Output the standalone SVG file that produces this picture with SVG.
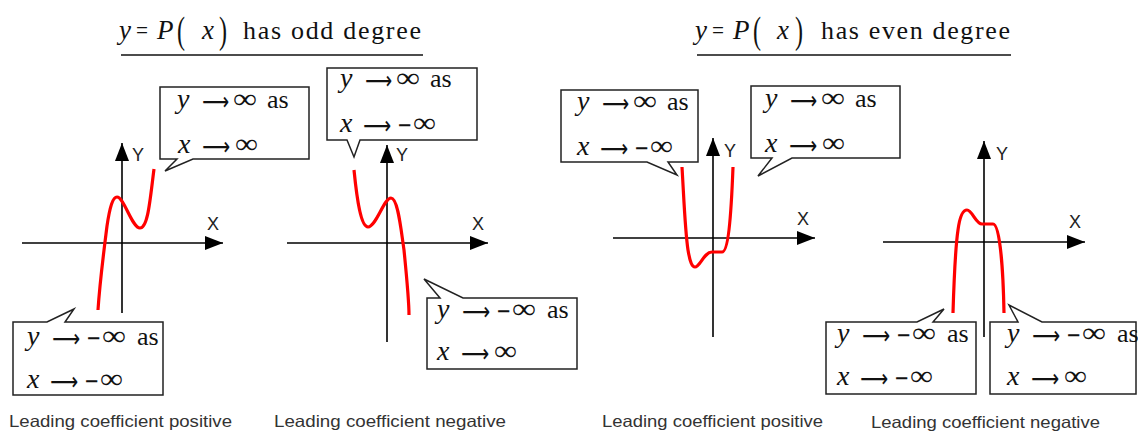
<svg xmlns="http://www.w3.org/2000/svg" xmlns:xlink="http://www.w3.org/1999/xlink" width="1138" height="432" viewBox="0 0 1138 432">
<style>
.it{font-family:"Liberation Serif",serif;font-style:italic;font-size:28px;fill:#111}
.rm{font-family:"Liberation Serif",serif;font-size:26px;fill:#111}
.mn{font-family:"DejaVu Sans",sans-serif;font-size:24px;fill:#111}
.inf{font-family:"Liberation Serif",serif;font-size:28px;fill:#111}
.arr{font-family:"DejaVu Sans",sans-serif;font-size:25px;fill:#111}
.tit{font-family:"Liberation Serif",serif;font-size:26px;fill:#111}
.tit-it{font-family:"Liberation Serif",serif;font-style:italic;font-size:27px;fill:#111}
.par{font-family:"Liberation Serif",serif;font-size:38px;fill:#111}
.ax{stroke:#000;stroke-width:1.6;fill:none}
.lab{font-family:"Liberation Sans",sans-serif;font-size:18px;fill:#222}
.cap{font-family:"Liberation Sans",Arial,sans-serif;font-size:16.5px;fill:#333}
.bub{fill:#fff;stroke:#222;stroke-width:1.5;stroke-linejoin:miter}
.curve{fill:none;stroke:#f00;stroke-width:3.2;stroke-linejoin:round;stroke-linecap:butt}
.ul{stroke:#111;stroke-width:1.6}
</style>
<defs>
<marker id="ah" viewBox="0 0 18 14" refX="18" refY="7" markerWidth="18" markerHeight="14" markerUnits="userSpaceOnUse" orient="auto">
<path d="M0,0 L18,7 L0,14 Z" fill="#000"/>
</marker>
<g id="yp">
<text class="it" x="0" y="0">y</text>
<text class="arr" x="25" y="2" textLength="27" lengthAdjust="spacingAndGlyphs">⟶</text>
<text class="inf" x="56" y="0" textLength="24" lengthAdjust="spacingAndGlyphs">∞</text>
<text class="rm" x="90" y="0">as</text>
</g>
<g id="ym">
<text class="it" x="0" y="0">y</text>
<text class="arr" x="25" y="2" textLength="28" lengthAdjust="spacingAndGlyphs">⟶</text>
<text class="mn" x="59" y="1" textLength="15" lengthAdjust="spacingAndGlyphs">−</text>
<text class="inf" x="75" y="0" textLength="24" lengthAdjust="spacingAndGlyphs">∞</text>
<text class="rm" x="110" y="0">as</text>
</g>
<g id="xp">
<text class="it" x="0" y="0">x</text>
<text class="arr" x="24" y="2" textLength="28" lengthAdjust="spacingAndGlyphs">⟶</text>
<text class="inf" x="57" y="0" textLength="23" lengthAdjust="spacingAndGlyphs">∞</text>
</g>
<g id="xm">
<text class="it" x="0" y="0">x</text>
<text class="arr" x="23" y="2" textLength="28" lengthAdjust="spacingAndGlyphs">⟶</text>
<text class="mn" x="57" y="1" textLength="15" lengthAdjust="spacingAndGlyphs">−</text>
<text class="inf" x="73" y="0" textLength="23" lengthAdjust="spacingAndGlyphs">∞</text>
</g>
</defs>
<rect width="1138" height="432" fill="#fff"/>

<g id="title-odd">
<text class="tit-it" x="119" y="39">y</text>
<text class="tit" x="136" y="39" textLength="12" lengthAdjust="spacingAndGlyphs">=</text>
<text class="tit-it" x="157" y="39">P</text>
<text class="par" x="177" y="43" textLength="8" lengthAdjust="spacingAndGlyphs">(</text>
<text class="tit-it" x="202" y="39">x</text>
<text class="par" x="219" y="43" textLength="8" lengthAdjust="spacingAndGlyphs">)</text>
<text class="tit" x="243" y="39" textLength="178" lengthAdjust="spacing">has odd degree</text>
<line class="ul" x1="121" y1="55" x2="423" y2="55"/>
</g>
<g id="title-even">
<text class="tit-it" x="695" y="39">y</text>
<text class="tit" x="712" y="39" textLength="12" lengthAdjust="spacingAndGlyphs">=</text>
<text class="tit-it" x="733" y="39">P</text>
<text class="par" x="753" y="43" textLength="8" lengthAdjust="spacingAndGlyphs">(</text>
<text class="tit-it" x="777" y="39">x</text>
<text class="par" x="795" y="43" textLength="8" lengthAdjust="spacingAndGlyphs">)</text>
<text class="tit" x="821" y="39" textLength="189" lengthAdjust="spacing">has even degree</text>
<line class="ul" x1="697" y1="55" x2="1011" y2="55"/>
</g>

<g id="connectors">
<line class="ax" x1="122" y1="313" x2="122" y2="143" marker-end="url(#ah)"/>
<line class="ax" x1="22" y1="243" x2="223" y2="243" marker-end="url(#ah)"/>
<line class="ax" x1="387" y1="342" x2="387" y2="145" marker-end="url(#ah)"/>
<line class="ax" x1="287" y1="243" x2="488" y2="243" marker-end="url(#ah)"/>
<line class="ax" x1="713" y1="337" x2="713" y2="138" marker-end="url(#ah)"/>
<line class="ax" x1="613" y1="238" x2="815" y2="238" marker-end="url(#ah)"/>
<line class="ax" x1="984" y1="337" x2="984" y2="141" marker-end="url(#ah)"/>
<line class="ax" x1="883" y1="242" x2="1085" y2="242" marker-end="url(#ah)"/>
</g>

<g id="axis-labels">
<text class="lab" x="132" y="161">Y</text>
<text class="lab" x="207" y="230">X</text>
<text class="lab" x="396" y="161">Y</text>
<text class="lab" x="472" y="230">X</text>
<text class="lab" x="724" y="157">Y</text>
<text class="lab" x="797" y="225">X</text>
<text class="lab" x="996" y="160">Y</text>
<text class="lab" x="1069" y="228">X</text>
</g>

<g id="curves">
<path id="curve-odd-pos" class="curve" d="M98,310 C100,280 104,250 107,226 C110,206 113,197 117,197 C124,197 132,228 140,228 C148,228 150,200 154,169"/>
<path id="curve-odd-neg" class="curve" d="M354,170 C357,200 361,227 368,227 C376,227 384,198 391,198 C398,198 401,230 404,250 C407,280 409,300 409,315"/>
<path id="curve-even-pos" class="curve" d="M682,167 C684,200 685,230 688,250 C690,262 692,267 695,267 C700,267 704,252 712,252 L722,252 C728,252 731,220 733,167"/>
<path id="curve-even-neg" class="curve" d="M953,313 C954,280 955,250 958,230 C960,215 963,210 967,210 C972,210 976,224 982,224 L993,224 C999,224 1003,260 1004,313"/>
</g>

<g id="box-odd-pos-right">
<path class="bub" d="M160,87 H309 V159 H193 L165,171 L177,159 H160 Z"/>
<use href="#yp" xlink:href="#yp" x="177" y="108"/>
<use href="#xp" xlink:href="#xp" x="178" y="153"/>
</g>
<g id="box-odd-pos-left">
<path class="bub" d="M13,322 H47 L74,309 L65,322 H163 V395 H13 Z"/>
<use href="#ym" xlink:href="#ym" x="27" y="345"/>
<use href="#xm" xlink:href="#xm" x="27" y="388"/>
</g>
<g id="box-odd-neg-left">
<path class="bub" d="M327,68 H477 V140 H360 L354,157 L347,140 H327 Z"/>
<use href="#yp" xlink:href="#yp" x="340" y="87"/>
<use href="#xm" xlink:href="#xm" x="340" y="132"/>
</g>
<g id="box-odd-neg-right">
<path class="bub" d="M427,298 H440 L424,279 L463,298 H577 V369 H427 Z"/>
<use href="#ym" xlink:href="#ym" x="437" y="318"/>
<use href="#xp" xlink:href="#xp" x="437" y="360"/>
</g>
<g id="box-even-pos-left">
<path class="bub" d="M561,90 H698 V162 H668 L677,175 L647,162 H561 Z"/>
<use href="#yp" xlink:href="#yp" x="577" y="110"/>
<use href="#xm" xlink:href="#xm" x="577" y="155"/>
</g>
<g id="box-even-pos-right">
<path class="bub" d="M751,86 H900 V158 H792 L758,176 L772,158 H751 Z"/>
<use href="#yp" xlink:href="#yp" x="765" y="107"/>
<use href="#xp" xlink:href="#xp" x="765" y="152"/>
</g>
<g id="box-even-neg-left">
<path class="bub" d="M826,322 H917 L944,309 L933,322 H976 V394 H826 Z"/>
<use href="#ym" xlink:href="#ym" x="837" y="342"/>
<use href="#xm" xlink:href="#xm" x="837" y="385"/>
</g>
<g id="box-even-neg-right">
<path class="bub" d="M990,322 H1018 L1009,305 L1042,322 H1136 V394 H990 Z"/>
<use href="#ym" xlink:href="#ym" x="1007" y="342"/>
<use href="#xp" xlink:href="#xp" x="1007" y="385"/>
</g>

<g id="captions">
<text class="cap" x="9" y="427" textLength="223" lengthAdjust="spacingAndGlyphs">Leading coefficient positive</text>
<text class="cap" x="274" y="427" textLength="232" lengthAdjust="spacingAndGlyphs">Leading coefficient negative</text>
<text class="cap" x="602" y="427" textLength="221" lengthAdjust="spacingAndGlyphs">Leading coefficient positive</text>
<text class="cap" x="871" y="428" textLength="229" lengthAdjust="spacingAndGlyphs">Leading coefficient negative</text>
</g>
</svg>
